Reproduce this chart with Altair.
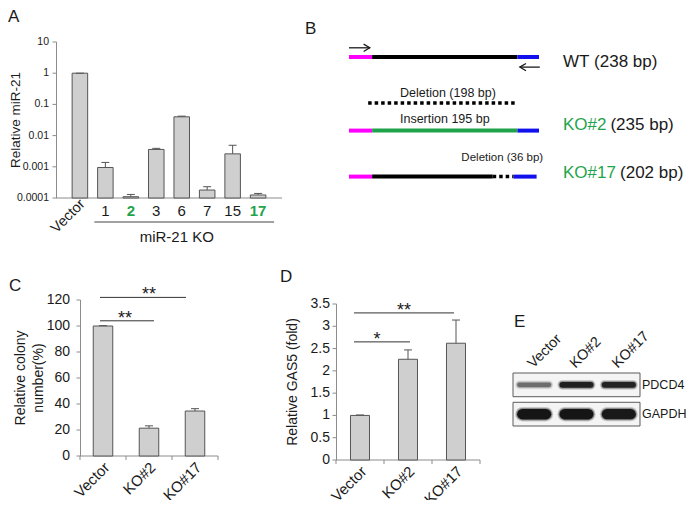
import altair as alt
import pandas as pd

# ---------------- data ----------------
# Panel A : relative miR-21 in knockout clones (log scale)
a_clones = ["Vector", "1", "2", "3", "6", "7", "15", "17"]
a_mean = [1.0, 0.00095, 0.00011, 0.0036, 0.040, 0.00018, 0.0026, 0.000125]
a_sd = [0.0, 0.00043, 0.00002, 0.0003, 0.002, 0.00005, 0.0023, 0.000015]
a_selected = ["2", "17"]
a_yticks = [0.0001, 0.001, 0.01, 0.1, 1, 10]
a_group_label = "miR-21 KO"

# Panel C : relative colony number
c_groups = ["Vector", "KO#2", "KO#17"]
c_mean = [100.0, 21.4, 34.6]
c_sd = [0.3, 1.8, 1.8]
c_sig_to = ["KO#2", "KO#17"]
c_sig_level = [104, 122]
c_sig_label = ["**", "**"]
c_yticks = [0, 20, 40, 60, 80, 100, 120]

# Panel D : relative GAS5
d_groups = ["Vector", "KO#2", "KO#17"]
d_mean = [1.0, 2.26, 2.62]
d_sd = [0.01, 0.21, 0.52]
d_sig_to = ["KO#2", "KO#17"]
d_sig_level = [2.65, 3.30]
d_sig_label = ["*", "**"]
d_yticks = [0, 0.5, 1, 1.5, 2, 2.5, 3, 3.5]

# Panel B : amplicon schematic (bp along the amplicon)
b_alleles = ["WT", "KO#2", "KO#17"]
b_sizes = [238, 235, 202]
seg_allele = ["WT", "WT", "WT", "KO#2", "KO#2", "KO#2", "KO#17", "KO#17", "KO#17"]
seg_start = [0, 29, 211, 0, 29, 211, 0, 29, 206]
seg_end = [29, 211, 238, 29, 211, 238, 29, 180, 235]
seg_kind = ["primer F", "locus", "primer R", "primer F", "insertion", "primer R",
            "primer F", "locus", "primer R"]
del_start = [24, 180]
del_end = [211, 206]
b_notes = ["Deletion (198 bp)", "Insertion 195 bp", "Deletion (36 bp)"]
primer_from = [0, 239]
primer_to = [26, 214]

# Panel E : western blot
blot_lanes = ["Vector", "KO#2", "KO#17"]
blot_rows = ["PDCD4", "GAPDH"]
pdcd4_signal = [0.5, 0.92, 0.9]
gapdh_signal = [1.0, 1.0, 0.97]

# ---------------- style / layout ----------------
FONT = "Liberation Sans"
TXT = "#1a1a1a"
GREEN = "#1fa44c"
MAGENTA = "#ff00ff"
BLUE = "#1111ee"
BAR_FILL = "#cfcfcf"
BAR_STROKE = "#555555"
AXIS_GRAY = "#8c8c8c"
W, H = 680, 492
one = alt.Data(values=[{}])


def px(v):
    return v - 8


def y_axis(Y, ticks, axis_x, fmt, label_size, lab_pad, title, title_x, title_size):
    """Left axis drawn from the scale: domain line, ticks, labels, title."""
    ax = axis_x + 0.5
    dom_df = pd.DataFrame({"lo": [Y.domain[0]], "hi": [Y.domain[1]]})
    tdf = pd.DataFrame({"v": ticks})
    dom = alt.Chart(dom_df).mark_rule(color=AXIS_GRAY, strokeWidth=1).encode(
        x=alt.value(ax), y=alt.Y("lo:Q", scale=Y, axis=None), y2="hi:Q")
    tk = alt.Chart(tdf).mark_rule(color=AXIS_GRAY, strokeWidth=1).encode(
        x=alt.value(ax - 4), x2=alt.value(ax), y=alt.Y("v:Q", scale=Y, axis=None))
    lb = alt.Chart(tdf).mark_text(align="right", baseline="middle", fontSize=label_size,
                                  color=TXT).encode(
        x=alt.value(axis_x - 4 - lab_pad), y=alt.Y("v:Q", scale=Y, axis=None),
        text=alt.Text("v:Q", format=fmt))
    ttl = alt.Chart(one).mark_text(text=title, angle=270, fontSize=title_size, align="center",
                                   baseline="middle", lineHeight=18, color=TXT).encode(
        x=alt.value(title_x), y=alt.value((Y.range[0] + Y.range[1]) / 2))
    return [dom, tk, lb, ttl]


# ================= Panel A =================
a_df = pd.DataFrame({"clone": a_clones, "mean": a_mean,
                     "upper": [m + s for m, s in zip(a_mean, a_sd)]})
A_X = alt.Scale(domain=a_clones, range=[px(56), px(282)], paddingInner=0.39, paddingOuter=0.634)
A_Y = alt.Scale(type="log", domain=[1e-4, 10], range=[px(198), px(42)], nice=False)
a_x = alt.X("clone:N", scale=A_X, axis=None)

a_bars = alt.Chart(a_df).mark_bar(fill=BAR_FILL, stroke=BAR_STROKE, strokeWidth=1).encode(
    x=a_x, y=alt.Y("mean:Q", scale=A_Y, axis=None), y2=alt.datum(1e-4))
a_err = alt.Chart(a_df).mark_rule(color=BAR_STROKE).encode(
    x=a_x, y=alt.Y("mean:Q", scale=A_Y, axis=None), y2="upper:Q")
a_cap = alt.Chart(a_df).mark_rule(color=BAR_STROKE, xOffset=-4, x2Offset=4).encode(
    x=a_x, x2="clone:N", y=alt.Y("upper:Q", scale=A_Y, axis=None))
a_xdom = alt.Chart(pd.DataFrame({"lo": [1e-4]})).mark_rule(color=AXIS_GRAY).encode(
    x=alt.value(px(56)), x2=alt.value(px(282)), y=alt.Y("lo:Q", scale=A_Y, axis=None))
plain = [c for c in a_clones[1:] if c not in a_selected]
a_lab = alt.Chart(a_df).transform_filter(
    alt.FieldOneOfPredicate(field="clone", oneOf=plain)
).mark_text(fontSize=15, color=TXT, baseline="middle").encode(
    x=a_x, y=alt.value(px(211)), text="clone:N")
a_lab_sel = alt.Chart(a_df).transform_filter(
    alt.FieldOneOfPredicate(field="clone", oneOf=a_selected)
).mark_text(fontSize=15, color=GREEN, fontWeight="bold", baseline="middle").encode(
    x=a_x, y=alt.value(px(211)), text="clone:N")
a_lab_vec = alt.Chart(a_df).transform_filter(
    alt.FieldEqualPredicate(field="clone", equal=a_clones[0])
).mark_text(fontSize=14.5, color=TXT, angle=315, align="right", baseline="top", xOffset=-2).encode(
    x=a_x, y=alt.value(px(197)), text="clone:N")
a_grp_df = pd.DataFrame({"start": [a_clones[1]], "end": [a_clones[-1]], "mid": ["6"],
                         "label": [a_group_label]})
a_grp_line = alt.Chart(a_grp_df).mark_rule(color="#444", xOffset=-11, x2Offset=16).encode(
    x=alt.X("start:N", scale=A_X, axis=None), x2="end:N", y=alt.value(px(222)))
a_grp_txt = alt.Chart(a_grp_df).mark_text(fontSize=15, color=TXT, baseline="middle", xOffset=-5).encode(
    x=alt.X("mid:N", scale=A_X, axis=None), y=alt.value(px(237)), text="label:N")
panel_a = alt.layer(
    *y_axis(A_Y, a_yticks, px(56), "~g", 10.5, 3, "Relative miR-21", px(16), 13.5),
    a_xdom, a_bars, a_err, a_cap, a_lab, a_lab_sel, a_lab_vec, a_grp_line, a_grp_txt)


# ================= Panels C / D =================
def bar_panel(groups, mean, sd, sig_to, sig_level, sig_label, X, Y, yticks, ytitle,
              title_x, axis_x, lab_pad, x_off, x2_off, star_dx):
    df = pd.DataFrame({"group": groups, "mean": mean,
                       "upper": [m + s for m, s in zip(mean, sd)]})
    gx = alt.X("group:N", scale=X, axis=None)
    x0, x1 = X.range
    step = (x1 - x0) / len(groups)
    axis_y = Y.range[0]
    zero_df = pd.DataFrame({"group": groups, "zero": [0] * len(groups)})
    xdom = alt.Chart(pd.DataFrame({"zero": [0]})).mark_rule(color=AXIS_GRAY).encode(
        x=alt.value(x0), x2=alt.value(x1), y=alt.Y("zero:Q", scale=Y, axis=None))
    xtick = alt.Chart(zero_df).mark_rule(color=AXIS_GRAY, xOffset=-step / 2, y2Offset=4).encode(
        x=gx, y=alt.Y("zero:Q", scale=Y, axis=None), y2="zero:Q")
    xtick_end = alt.Chart(zero_df.tail(1)).mark_rule(color=AXIS_GRAY, xOffset=step / 2,
                                                     y2Offset=4).encode(
        x=gx, y=alt.Y("zero:Q", scale=Y, axis=None), y2="zero:Q")
    xlab = alt.Chart(df).mark_text(fontSize=15, color=TXT, angle=315, align="right",
                                   baseline="top", xOffset=-1).encode(
        x=gx, y=alt.value(axis_y + 4), text="group:N")
    bars = alt.Chart(df).mark_bar(fill=BAR_FILL, stroke=BAR_STROKE, strokeWidth=1).encode(
        x=gx, y=alt.Y("mean:Q", scale=Y, axis=None))
    err = alt.Chart(df).mark_rule(color=BAR_STROKE).encode(
        x=gx, y=alt.Y("mean:Q", scale=Y, axis=None), y2="upper:Q")
    cap = alt.Chart(df).mark_rule(color=BAR_STROKE, xOffset=-4, x2Offset=4).encode(
        x=gx, x2="group:N", y=alt.Y("upper:Q", scale=Y, axis=None))
    layers = y_axis(Y, yticks, axis_x, "~g", 14, lab_pad, ytitle, title_x, 14)
    layers += [xdom, xtick, xtick_end, xlab, bars, err, cap]
    for i in range(len(sig_to)):
        sdf = pd.DataFrame({"from": [groups[0]], "to": [sig_to[i]], "level": [sig_level[i]],
                            "label": [sig_label[i]]})
        layers.append(alt.Chart(sdf).mark_rule(color="#333", xOffset=x_off, x2Offset=x2_off[i]).encode(
            x=alt.X("from:N", scale=X, axis=None), x2="to:N",
            y=alt.Y("level:Q", scale=Y, axis=None)))
        layers.append(alt.Chart(sdf).mark_text(fontSize=18, color=TXT, baseline="alphabetic",
                                               xOffset=star_dx[i], yOffset=3).encode(
            x=alt.X("from:N", scale=X, axis=None),
            y=alt.Y("level:Q", scale=Y, axis=None), text="label:N"))
    return alt.layer(*layers)


C_X = alt.Scale(domain=c_groups, range=[px(80), px(218)], paddingInner=0.576, paddingOuter=0.288)
C_Y = alt.Scale(domain=[0, 120], range=[px(456), px(300)], nice=False)
panel_c = bar_panel(c_groups, c_mean, c_sd, c_sig_to, c_sig_level, c_sig_label, C_X, C_Y,
                    c_yticks, ["Relative colony", "number(%)"], px(21), px(80), 6,
                    -3, [5, -9], [22, 46])

D_X = alt.Scale(domain=d_groups, range=[px(336), px(480)], paddingInner=0.604, paddingOuter=0.302)
D_Y = alt.Scale(domain=[0, 3.5], range=[px(460), px(304)], nice=False)
panel_d = bar_panel(d_groups, d_mean, d_sd, d_sig_to, d_sig_level, d_sig_label, D_X, D_Y,
                    d_yticks, "Relative GAS5 (fold)", px(293), px(336), 2,
                    -6, [2, -2], [17, 44])

# ================= Panel B =================
track = {"WT": 0.0, "KO#2": 1.6, "KO#17": 2.6}
B_X = alt.Scale(domain=[0, 238], range=[px(349), px(539)], nice=False, zero=False)
B_Y = alt.Scale(domain=[0, 2.6], range=[px(57), px(57) + 2.6 * 46], nice=False, zero=False)
seg_df = pd.DataFrame({"allele": seg_allele, "start": seg_start, "end": seg_end, "kind": seg_kind,
                       "track": [track[a] for a in seg_allele]})
b_seg = alt.Chart(seg_df).mark_rule(strokeWidth=4, strokeCap="butt").encode(
    x=alt.X("start:Q", scale=B_X, axis=None), x2="end:Q",
    y=alt.Y("track:Q", scale=B_Y, axis=None),
    color=alt.Color("kind:N", legend=None, scale=alt.Scale(
        domain=["primer F", "locus", "insertion", "primer R"],
        range=[MAGENTA, "#000000", GREEN, BLUE])))
del_df = pd.DataFrame({"start": del_start, "end": del_end,
                       "track": [track["KO#2"] - 0.6, track["KO#17"]]})
b_del = alt.Chart(del_df).mark_rule(strokeWidth=3.5, strokeDash=[3.5, 3], color="#000").encode(
    x=alt.X("start:Q", scale=B_X, axis=None), x2="end:Q",
    y=alt.Y("track:Q", scale=B_Y, axis=None))
arr_df = pd.DataFrame({"x0": primer_from, "x1": primer_to, "track": [-0.2, 0.22], "ang": [0, 180]})
b_shaft = alt.Chart(arr_df).mark_rule(strokeWidth=1.3, color=TXT).encode(
    x=alt.X("x0:Q", scale=B_X, axis=None), x2="x1:Q", y=alt.Y("track:Q", scale=B_Y, axis=None))
b_head = alt.Chart(arr_df).mark_point(shape="M-1,-0.6L0,0L-1,0.6", filled=False, size=150,
                                      strokeWidth=1.3, color=TXT, opacity=1).encode(
    x=alt.X("x1:Q", scale=B_X, axis=None), y=alt.Y("track:Q", scale=B_Y, axis=None),
    angle=alt.Angle("ang:Q", scale=None))
note_df = pd.DataFrame({"label": b_notes, "x": [124, 120, 192], "track": [0.78, 1.35, 2.2],
                        "size": [12.5, 12.5, 11.5]})
b_note = alt.Chart(note_df).mark_text(color=TXT, baseline="middle").encode(
    x=alt.X("x:Q", scale=B_X, axis=None), y=alt.Y("track:Q", scale=B_Y, axis=None),
    text="label:N", size=alt.Size("size:Q", scale=None))
lab_df = pd.DataFrame({"allele": b_alleles, "size": [f"({s} bp)" for s in b_sizes],
                       "x": [268] * 3, "x2": [307, 327.5, 339.5], "track": [0.1, 1.48, 2.52],
                       "col": [TXT, GREEN, GREEN]})
b_name = alt.Chart(lab_df).mark_text(fontSize=17, align="left", baseline="middle").encode(
    x=alt.X("x:Q", scale=B_X, axis=None), y=alt.Y("track:Q", scale=B_Y, axis=None),
    text="allele:N", color=alt.Color("col:N", scale=None))
b_size = alt.Chart(lab_df).mark_text(fontSize=17, align="left", baseline="middle", color=TXT).encode(
    x=alt.X("x2:Q", scale=B_X, axis=None), y=alt.Y("track:Q", scale=B_Y, axis=None),
    text="size:N")
panel_b = alt.layer(b_seg, b_del, b_shaft, b_head, b_note, b_name, b_size)

# ================= Panel E =================
E_X = alt.Scale(domain=[0, len(blot_lanes)], range=[px(513), px(640)], nice=False, zero=False)
E_Y = alt.Scale(domain=blot_rows, range=[px(373), px(426)], paddingInner=0.19, paddingOuter=0)
unit = (640 - 513) / len(blot_lanes)
band_rows = []
for row, sig, tmax in [("PDCD4", pdcd4_signal, 6.0), ("GAPDH", gapdh_signal, 10.5)]:
    for i, s in enumerate(sig):
        t = tmax * (0.55 + 0.45 * s)
        pad = 0.05 + (t / 2 + 2) / unit
        for extra, op in [(4.0, 0.18), (2.0, 0.3), (0.0, 0.85)]:
            band_rows.append({"row": row, "x0": i + pad, "x1": i + 1 - pad, "w": t + extra,
                              "op": op * s})
band_df = pd.DataFrame(band_rows)
box_df = pd.DataFrame({"row": blot_rows, "x0": [0] * 2, "x1": [len(blot_lanes)] * 2})
e_box = alt.Chart(box_df).mark_rect(fill="#f4f4f4", stroke="#5a5a5a", strokeWidth=1).encode(
    x=alt.X("x0:Q", scale=E_X, axis=None), x2="x1:Q", y=alt.Y("row:N", scale=E_Y, axis=None))
e_band = alt.Chart(band_df).mark_rule(strokeCap="round", color="#000").encode(
    x=alt.X("x0:Q", scale=E_X, axis=None), x2="x1:Q", y=alt.Y("row:N", scale=E_Y, axis=None),
    size=alt.Size("w:Q", scale=None), opacity=alt.Opacity("op:Q", scale=None))
lane_df = pd.DataFrame({"lane": blot_lanes, "c": [i + 0.5 for i in range(len(blot_lanes))],
                        "row": [blot_rows[0]] * len(blot_lanes)})
e_lane = alt.Chart(lane_df).mark_text(fontSize=14.5, color=TXT, angle=315, align="left",
                                      baseline="alphabetic", xOffset=-1, yOffset=-16).encode(
    x=alt.X("c:Q", scale=E_X, axis=None), y=alt.Y("row:N", scale=E_Y, axis=None), text="lane:N")
row_df = pd.DataFrame({"row": blot_rows, "x": [len(blot_lanes)] * 2})
e_row = alt.Chart(row_df).mark_text(fontSize=12.5, color=TXT, align="left", baseline="middle",
                                    xOffset=2).encode(
    x=alt.X("x:Q", scale=E_X, axis=None), y=alt.Y("row:N", scale=E_Y, axis=None), text="row:N")
panel_e = alt.layer(e_box, e_band, e_lane, e_row)

# ================= panel letters =================
letters = []
for t, lx, ly in [("A", 8, 22), ("B", 305, 34), ("C", 9, 291), ("D", 280, 282), ("E", 514, 327)]:
    letters.append(alt.Chart(one).mark_text(text=t, fontSize=17, color=TXT, align="left",
                                            baseline="alphabetic").encode(
        x=alt.value(px(lx)), y=alt.value(px(ly))))

chart = alt.layer(panel_a, panel_b, panel_c, panel_d, panel_e, *letters).resolve_scale(
    x="independent", y="independent", color="independent"
).properties(
    width=W, height=H, autosize=alt.AutoSizeParams(type="none"), padding=0
).configure_view(stroke=None).configure_text(font=FONT)

chart.save("out.html", embed_options={"renderer": "svg", "actions": False})
